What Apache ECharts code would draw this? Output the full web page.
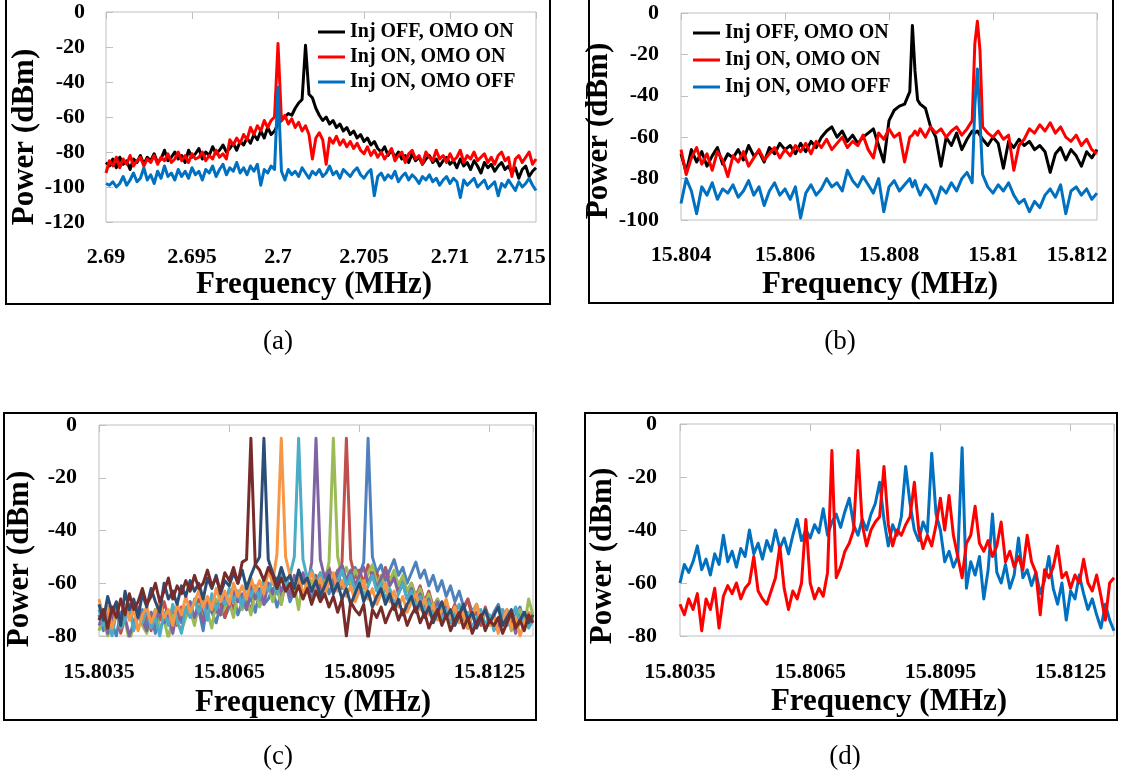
<!DOCTYPE html>
<html><head><meta charset="utf-8">
<script src="https://cdn.jsdelivr.net/npm/echarts@6/dist/echarts.min.js"></script>
<style>html,body{margin:0;padding:0;background:#fff}#chart{width:1126px;height:779px}</style>
</head><body><div id="chart"></div>
<script>
// ---------------- DATA ----------------
const legendNames = ['Inj OFF, OMO ON', 'Inj ON, OMO ON', 'Inj ON, OMO OFF'];
const xTicksA = [2.69, 2.695, 2.7, 2.705, 2.71, 2.715];
const yTicksA = [-120, -100, -80, -60, -40, -20, 0];
const xTicksB = [15.804, 15.806, 15.808, 15.81, 15.812];
const yTicksB = [-100, -80, -60, -40, -20, 0];
const xTicksCD = [15.8035, 15.8065, 15.8095, 15.8125];
const xMaxCD = 15.8135;
const yTicksCD = [-80, -60, -40, -20, 0];

const freqA = [
2.69,2.6902,2.6904,2.6906,2.6908,2.691,2.6912,2.6914,2.6916,2.6918,
2.692,2.6922,2.6924,2.6926,2.6928,2.693,2.6932,2.6934,2.6936,2.6938,
2.694,2.6942,2.6944,2.6946,2.6948,2.695,2.6952,2.6954,2.6956,2.6958,
2.696,2.6962,2.6964,2.6966,2.6968,2.697,2.6972,2.6974,2.6976,2.6978,
2.698,2.6982,2.6984,2.6986,2.6988,2.699,2.6992,2.6994,2.6996,2.6998,
2.7,2.7002,2.7004,2.7006,2.7008,2.701,2.7012,2.7014,2.7016,2.7018,
2.702,2.7022,2.7024,2.7026,2.7028,2.703,2.7032,2.7034,2.7036,2.7038,
2.704,2.7042,2.7044,2.7046,2.7048,2.705,2.7052,2.7054,2.7056,2.7058,
2.706,2.7062,2.7064,2.7066,2.7068,2.707,2.7072,2.7074,2.7076,2.7078,
2.708,2.7082,2.7084,2.7086,2.7088,2.709,2.7092,2.7094,2.7096,2.7098,
2.71,2.7102,2.7104,2.7106,2.7108,2.711,2.7112,2.7114,2.7116,2.7118,
2.712,2.7122,2.7124,2.7126,2.7128,2.713,2.7132,2.7134,2.7136,2.7138,
2.714,2.7142,2.7144,2.7146,2.7148,2.715];
const blackA = [
-86,-88,-84,-89,-83,-87,-85,-90,-84,-86,
-82,-87,-83,-85,-81,-86,-84,-79,-85,-83,
-80,-84,-82,-86,-79,-83,-81,-78,-84,-80,
-82,-77,-81,-79,-76,-80,-78,-75,-79,-74,
-76,-72,-75,-70,-73,-68,-72,-66,-70,-68,
-64,-62,-60,-58,-59,-55,-52,-50,-19,-47,
-49,-55,-59,-62,-60,-64,-62,-66,-64,-68,
-66,-70,-68,-72,-70,-74,-72,-76,-74,-78,
-80,-77,-82,-79,-83,-80,-84,-82,-86,-81,
-85,-83,-87,-84,-82,-86,-84,-88,-85,-83,
-87,-85,-89,-84,-88,-86,-90,-85,-88,-92,
-86,-89,-87,-91,-88,-86,-90,-88,-92,-89,
-95,-90,-88,-94,-91,-89];
const redA = [
-92,-85,-88,-83,-89,-84,-87,-82,-88,-85,
-83,-88,-84,-86,-82,-87,-83,-85,-81,-86,
-84,-80,-85,-82,-86,-81,-84,-83,-80,-85,
-82,-84,-79,-83,-81,-84,-73,-76,-72,-75,
-70,-73,-66,-70,-65,-68,-62,-66,-62,-60,
-18,-62,-59,-64,-61,-66,-63,-68,-65,-70,
-84,-72,-69,-73,-87,-72,-75,-71,-76,-73,
-77,-74,-78,-75,-79,-81,-77,-82,-79,-83,
-80,-84,-81,-78,-85,-82,-80,-86,-81,-79,
-84,-82,-87,-80,-83,-85,-79,-84,-82,-86,
-81,-85,-83,-79,-86,-82,-84,-80,-85,-83,
-81,-86,-83,-87,-82,-80,-85,-83,-94,-84,
-82,-86,-83,-80,-87,-84];
const blueA = [
-98,-99,-97,-100,-98,-94,-99,-96,-92,-97,
-95,-89,-96,-93,-98,-91,-95,-88,-94,-92,
-96,-90,-94,-91,-95,-89,-93,-91,-96,-90,
-92,-88,-94,-90,-87,-93,-89,-91,-86,-92,
-89,-93,-88,-91,-87,-99,-90,-92,-88,-90,
-43,-91,-96,-90,-93,-91,-94,-89,-92,-95,
-91,-93,-90,-94,-92,-88,-93,-91,-95,-90,
-92,-94,-91,-89,-93,-95,-92,-90,-105,-94,
-92,-96,-93,-95,-91,-97,-94,-92,-96,-93,
-95,-98,-94,-96,-93,-97,-95,-99,-96,-94,
-98,-95,-97,-106,-96,-99,-97,-95,-100,-98,
-96,-101,-99,-97,-105,-98,-100,-96,-99,-102,
-97,-100,-98,-95,-99,-102];

const freqB = [
15.804,15.8041,15.8042,15.8043,15.8044,15.8045,15.8046,15.8047,15.8048,15.8049,
15.805,15.8051,15.8052,15.8053,15.8054,15.8055,15.8056,15.8057,15.8058,15.8059,
15.806,15.8061,15.8062,15.8063,15.8064,15.8065,15.8066,15.8067,15.8068,15.8069,
15.807,15.8071,15.8072,15.8073,15.8074,15.8075,15.8076,15.8077,15.8078,15.8079,
15.808,15.8081,15.8082,15.8083,15.8084,15.80845,15.8085,15.80855,15.8086,15.8087,
15.8088,15.8089,15.809,15.8091,15.8092,15.8093,15.8094,15.8095,15.8096,15.80965,
15.8097,15.80975,15.8098,15.8099,15.81,15.8101,15.8102,15.8103,15.8104,15.8105,
15.8106,15.8107,15.8108,15.8109,15.811,15.8111,15.8112,15.8113,15.8114,15.8115,
15.8116,15.8117,15.8118,15.8119,15.812];
const blackB = [
-68,-77,-66,-72,-67,-74,-69,-65,-73,-68,
-70,-66,-71,-64,-69,-67,-72,-65,-68,-63,
-66,-64,-68,-63,-67,-62,-65,-60,-57,-55,
-60,-57,-62,-59,-63,-60,-58,-56,-64,-72,
-52,-47,-45,-44,-38,-6,-28,-42,-44,-46,
-55,-60,-74,-60,-64,-58,-66,-61,-57,-58,
-57,-59,-61,-64,-60,-63,-75,-62,-65,-61,
-64,-62,-66,-64,-67,-77,-68,-65,-71,-66,
-69,-74,-67,-70,-66];
const redB = [
-66,-78,-70,-65,-73,-68,-76,-67,-71,-79,
-69,-72,-67,-74,-70,-66,-71,-68,-65,-70,
-66,-69,-64,-67,-63,-68,-62,-65,-61,-66,
-63,-60,-65,-62,-64,-59,-66,-70,-58,-61,
-56,-60,-58,-72,-60,-59,-57,-59,-56,-60,
-55,-58,-56,-60,-57,-55,-59,-56,-52,-15,
-4,-18,-55,-58,-60,-57,-61,-59,-76,-64,
-61,-56,-58,-54,-57,-53,-58,-55,-60,-62,
-59,-64,-61,-66,-68];
const blueB = [
-92,-80,-86,-97,-84,-88,-82,-90,-85,-87,
-83,-89,-86,-81,-88,-84,-93,-86,-82,-88,
-85,-90,-84,-99,-87,-83,-88,-85,-80,-84,
-82,-86,-76,-81,-84,-79,-83,-87,-80,-96,
-84,-81,-86,-83,-80,-84,-81,-85,-88,-83,
-86,-92,-84,-87,-82,-86,-80,-77,-82,-45,
-27,-52,-78,-84,-87,-83,-86,-82,-88,-92,
-90,-96,-91,-94,-88,-85,-89,-83,-97,-86,
-84,-88,-85,-90,-87];

const freqCD = [
15.8035,15.8036,15.8037,15.8038,15.8039,15.804,15.8041,15.8042,15.8043,15.8044,
15.8045,15.8046,15.8047,15.8048,15.8049,15.805,15.8051,15.8052,15.8053,15.8054,
15.8055,15.8056,15.8057,15.8058,15.8059,15.806,15.8061,15.8062,15.8063,15.8064,
15.8065,15.8066,15.8067,15.8068,15.8069,15.807,15.8071,15.8072,15.8073,15.8074,
15.8075,15.8076,15.8077,15.8078,15.8079,15.808,15.8081,15.8082,15.8083,15.8084,
15.8085,15.8086,15.8087,15.8088,15.8089,15.809,15.8091,15.8092,15.8093,15.8094,
15.8095,15.8096,15.8097,15.8098,15.8099,15.81,15.8101,15.8102,15.8103,15.8104,
15.8105,15.8106,15.8107,15.8108,15.8109,15.811,15.8111,15.8112,15.8113,15.8114,
15.8115,15.8116,15.8117,15.8118,15.8119,15.812,15.8121,15.8122,15.8123,15.8124,
15.8125,15.8126,15.8127,15.8128,15.8129,15.813,15.8131,15.8132,15.8133,15.8134,
15.8135];
const c1 = [
-72,-78,-69,-75,-80,-71,-74,-68,-77,-73,
-70,-76,-72,-79,-68,-74,-71,-77,-69,-75,
-72,-67,-74,-70,-78,-66,-71,-75,-68,-73,
-69,-64,-72,-67,-70,-65,-71,-63,-68,-66,
-62,-69,-64,-60,-67,-63,-58,-65,-61,-66,
-60,-63,-57,-64,-59,-55,-62,-58,-61,-54,
-57,-52,-5,-50,-56,-53,-59,-55,-51,-57,
-54,-60,-56,-52,-58,-55,-61,-57,-63,-59,
-65,-61,-67,-63,-69,-66,-71,-68,-73,-70,
-75,-71,-68,-74,-70,-76,-72,-69,-75,-71,-73];
const c2 = [
-74,-70,-77,-72,-68,-79,-73,-71,-76,-69,
-75,-72,-78,-70,-74,-67,-73,-71,-76,-69,
-71,-68,-74,-66,-72,-69,-65,-71,-67,-73,
-66,-70,-63,-68,-65,-71,-62,-67,-64,-60,
-66,-61,-68,-59,-64,-62,-58,-65,-60,-63,
-57,-62,-58,-54,-61,-56,-52,-5,-51,-58,
-55,-60,-53,-58,-56,-61,-54,-59,-57,-62,
-58,-63,-60,-65,-61,-67,-63,-69,-66,-70,
-67,-72,-68,-74,-70,-66,-73,-71,-76,-69,
-74,-72,-78,-70,-75,-73,-77,-71,-76,-74,-72];
const c3 = [
-78,-73,-80,-75,-71,-77,-74,-82,-76,-72,
-76,-79,-73,-70,-77,-74,-81,-72,-75,-78,
-73,-70,-76,-68,-74,-71,-77,-66,-72,-69,
-67,-73,-64,-70,-66,-72,-63,-69,-65,-60,
-67,-62,-68,-58,-64,-61,-70,-57,-63,-59,
-62,-56,-60,-52,-5,-50,-57,-54,-60,-55,
-58,-62,-56,-53,-60,-57,-63,-59,-55,-61,
-57,-63,-60,-66,-62,-68,-64,-70,-66,-71,
-68,-73,-69,-75,-71,-77,-72,-68,-74,-70,
-76,-72,-69,-75,-71,-78,-73,-70,-76,-66,-72];
const c4 = [
-76,-72,-79,-74,-70,-77,-73,-80,-75,-71,
-74,-78,-71,-76,-69,-75,-72,-79,-70,-74,
-70,-67,-73,-69,-75,-66,-71,-68,-72,-65,
-69,-63,-67,-64,-70,-61,-66,-62,-68,-60,
-64,-58,-63,-59,-65,-57,-61,-56,-62,-52,
-5,-51,-58,-55,-60,-56,-53,-59,-55,-61,
-57,-54,-60,-56,-62,-58,-55,-61,-58,-64,
-60,-66,-62,-68,-64,-70,-66,-72,-67,-73,
-69,-75,-70,-74,-71,-77,-72,-76,-73,-70,
-75,-72,-78,-71,-76,-73,-79,-74,-71,-76,-73];
const c5 = [
-70,-76,-73,-80,-71,-77,-74,-69,-78,-72,
-75,-70,-77,-73,-80,-71,-76,-68,-74,-79,
-69,-73,-66,-71,-67,-74,-64,-70,-65,-68,
-62,-67,-63,-69,-60,-65,-61,-66,-58,-63,
-59,-64,-56,-61,-57,-50,-5,-51,-58,-55,
-60,-56,-62,-58,-63,-59,-55,-61,-57,-63,
-59,-65,-61,-57,-63,-60,-66,-62,-68,-64,
-60,-66,-63,-69,-65,-71,-67,-73,-69,-74,
-70,-75,-72,-68,-74,-71,-77,-73,-70,-76,
-72,-78,-74,-70,-76,-73,-69,-75,-72,-77,-74];
const c6 = [
-66,-73,-69,-77,-71,-75,-68,-74,-70,-78,
-72,-69,-75,-71,-67,-73,-70,-76,-68,-72,
-65,-71,-67,-63,-69,-65,-70,-62,-67,-63,
-68,-60,-65,-61,-66,-58,-63,-59,-64,-55,
-60,-49,-5,-50,-57,-62,-58,-64,-60,-56,
-62,-58,-64,-60,-56,-63,-59,-65,-61,-67,
-63,-59,-66,-62,-68,-64,-60,-67,-63,-69,
-65,-71,-67,-64,-70,-66,-72,-68,-74,-70,
-66,-73,-69,-75,-71,-77,-72,-68,-74,-70,
-76,-72,-79,-74,-70,-77,-73,-80,-75,-71,-74];
const c7 = [
-68,-74,-65,-71,-67,-76,-63,-70,-66,-73,
-64,-69,-62,-67,-71,-60,-66,-63,-68,-61,
-65,-59,-63,-60,-66,-58,-62,-57,-64,-59,
-61,-56,-60,-55,-62,-57,-53,-50,-5,-51,
-56,-60,-54,-59,-57,-62,-55,-60,-58,-63,
-59,-65,-61,-57,-64,-60,-66,-62,-68,-64,
-60,-67,-63,-69,-65,-62,-68,-64,-70,-66,
-72,-68,-65,-71,-67,-73,-69,-75,-71,-67,
-73,-70,-76,-72,-68,-74,-71,-77,-73,-70,
-75,-72,-69,-76,-73,-70,-77,-74,-71,-75,-72];
const c8 = [
-74,-70,-77,-69,-73,-66,-72,-64,-70,-67,
-62,-68,-65,-60,-67,-63,-58,-66,-61,-64,
-59,-63,-57,-62,-60,-55,-61,-58,-63,-56,
-59,-54,-60,-52,-51,-5,-53,-55,-59,-54,
-57,-62,-58,-63,-60,-65,-61,-66,-62,-68,
-63,-67,-64,-69,-65,-71,-66,-80,-67,-70,
-72,-68,-81,-70,-73,-69,-75,-71,-68,-74,
-70,-76,-72,-69,-75,-71,-77,-73,-70,-76,
-72,-78,-74,-71,-77,-73,-79,-75,-72,-78,
-74,-76,-73,-79,-75,-71,-77,-74,-78,-72,-75];
const blueD = [
-60,-53,-56,-52,-46,-55,-51,-57,-49,-53,
-42,-52,-48,-54,-47,-50,-40,-49,-45,-51,
-44,-48,-40,-47,-43,-49,-42,-36,-44,-40,
-43,-38,-41,-32,-42,-37,-34,-39,-33,-28,
-38,-42,-36,-40,-34,-30,-22,-36,-46,-38,
-42,-35,-16,-30,-40,-44,-37,-41,-11,-34,
-40,-52,-48,-54,-50,-9,-62,-52,-57,-50,
-66,-55,-34,-56,-60,-53,-62,-57,-43,-58,
-55,-61,-56,-64,-59,-50,-62,-68,-60,-74,
-63,-66,-57,-64,-70,-66,-72,-77,-68,-74,-78];
const redD = [
-68,-72,-66,-70,-64,-78,-66,-70,-62,-77,
-65,-61,-64,-60,-66,-62,-60,-50,-63,-66,
-68,-63,-58,-46,-62,-70,-63,-66,-60,-36,
-60,-66,-62,-65,-56,-10,-58,-54,-48,-45,
-40,-10,-38,-46,-40,-37,-35,-16,-38,-46,
-40,-42,-38,-35,-22,-40,-47,-42,-46,-38,
-28,-40,-27,-42,-50,-58,-45,-42,-31,-45,
-48,-44,-50,-46,-37,-52,-48,-54,-50,-55,
-42,-52,-56,-72,-55,-58,-54,-46,-58,-56,
-62,-57,-60,-51,-60,-63,-57,-65,-74,-60,-58];

// ---------------- STYLE / LAYOUT ----------------
const FONT = 'Liberation Serif';
const GREY = '#bfbfbf';
const zip = (xs, ys) => xs.map((x, i) => [x, ys[i]]);

const panels = [
  {grid:{left:106, top:12, width:430, height:210}, xt:xTicksA, xmax:xTicksA[xTicksA.length-1], yt:yTicksA, lastPad:30, showMax:true,
   xNameGap:47, xNamePad:14, yNameGap:64, yNameShift:40, xLM:24, yLM:21},
  {grid:{left:681, top:13, width:416, height:207}, xt:xTicksB, xmax:xTicksB[xTicksB.length-1], yt:yTicksB, lastPad:40, showMax:true,
   xNameGap:49, xNamePad:18, yNameGap:64, yNameShift:29, xLM:24, yLM:22},
  {grid:{left:99, top:425, width:434, height:211}, xt:xTicksCD, xmax:xMaxCD, yt:yTicksCD, lastPad:0, showMax:false,
   xNameGap:51, xNamePad:6, yNameGap:64, yNameShift:57, xLM:25, yLM:22},
  {grid:{left:680, top:424, width:434, height:212}, xt:xTicksCD, xmax:xMaxCD, yt:yTicksCD, lastPad:0, showMax:false,
   xNameGap:50, xNamePad:16, yNameGap:62, yNameShift:52, xLM:25, yLM:23}
];

const tickFont = {fontFamily:FONT, fontWeight:'bold', fontSize:22, color:'#000'};
const nameFont = {fontFamily:FONT, fontWeight:'bold', fontSize:31, color:'#000'};

const grids = [], xAxes = [], yAxes = [];
panels.forEach((P, k) => {
  grids.push(Object.assign({show:true, borderColor:GREY, borderWidth:1, backgroundColor:'transparent'}, P.grid));
  const xmin = P.xt[0], xint = +(P.xt[1] - P.xt[0]).toFixed(6);
  xAxes.push({
    gridIndex:k, type:'value', position:'bottom', min:xmin, max:P.xmax, interval:xint,
    axisLine:{show:false}, axisTick:{show:false}, splitLine:{show:false},
    axisLabel:Object.assign({margin:P.xLM, showMaxLabel:P.showMax, showMinLabel:true,
      formatter:(v) => { const s = String(parseFloat(v.toFixed(5)));
        return (P.lastPad && Math.abs(v - P.xmax) < 1e-9) ? '{m|' + s + '}' : s; },
      rich:{m:Object.assign({padding:[0, P.lastPad, 0, 0]}, tickFont)}}, tickFont),
    name:'Frequency (MHz)', nameLocation:'middle', nameGap:P.xNameGap,
    nameTextStyle:Object.assign({padding:[0, P.xNamePad, 0, 0]}, nameFont)
  });
  xAxes.push({
    gridIndex:k, type:'value', position:'top', min:xmin, max:P.xmax, interval:xint,
    axisLine:{show:false}, axisLabel:{show:false}, splitLine:{show:false},
    axisTick:{show:true, inside:true, length:7, lineStyle:{color:GREY, width:1}}
  });
  yAxes.push({
    gridIndex:k, type:'value', position:'left', min:P.yt[0], max:P.yt[P.yt.length-1], interval:P.yt[1]-P.yt[0],
    axisLine:{show:false}, splitLine:{show:false},
    axisTick:{show:true, inside:true, length:7, lineStyle:{color:GREY, width:1}},
    axisLabel:Object.assign({margin:P.yLM}, tickFont),
    name:'Power (dBm)', nameLocation:'middle', nameGap:P.yNameGap,
    nameTextStyle:Object.assign({padding:[0, P.yNameShift, 0, 0]}, nameFont)
  });
});

function line(name, k, xs, ys, color, width) {
  return {name, type:'line', xAxisIndex:2*k, yAxisIndex:k, data:zip(xs, ys),
    showSymbol:false, symbol:'none', clip:true, animation:false,
    lineStyle:{color, width:width || 3, join:'round'}, itemStyle:{color}};
}

const cColors = ['#4F81BD','#C0504D','#9BBB59','#8064A2','#4BACC6','#F79646','#2C4D75','#772C2A'];
const cTraces = [c1, c2, c3, c4, c5, c6, c7, c8];

const series = [
  line(legendNames[0], 0, freqA, blackA, '#000000'),
  line(legendNames[1], 0, freqA, redA, '#FF0000'),
  line(legendNames[2], 0, freqA, blueA, '#0070C0'),
  line(legendNames[0], 1, freqB, blackB, '#000000'),
  line(legendNames[1], 1, freqB, redB, '#FF0000'),
  line(legendNames[2], 1, freqB, blueB, '#0070C0'),
  ...cTraces.map((t, i) => line('Trace ' + (i + 1), 2, freqCD, t, cColors[i])),
  line('Blue', 3, freqCD, blueD, '#0070C0'),
  line('Red', 3, freqCD, redD, '#FF0000')
];

const legendText = {fontFamily:FONT, fontWeight:'bold', fontSize:20, color:'#000'};
const legends = [
  {orient:'vertical', left:318, top:22, itemWidth:27, itemHeight:3, itemGap:5, icon:'rect', padding:0,
   selectedMode:false, data:legendNames, textStyle:legendText},
  {orient:'vertical', left:693, top:23, itemWidth:27, itemHeight:3, itemGap:7, icon:'rect', padding:0,
   selectedMode:false, data:legendNames, textStyle:legendText}
];

const box = (x, y, w, h) => ({type:'rect', silent:true, shape:{x, y, width:w, height:h},
  style:{fill:'transparent', stroke:'#000', lineWidth:2}});
const caption = (t, x, y) => ({type:'text', silent:true, x, y,
  style:{text:t, fontFamily:FONT, fontSize:27, fill:'#000', align:'center', verticalAlign:'middle'}});

const option = {
  animation:false, backgroundColor:'#ffffff',
  grid:grids, xAxis:xAxes, yAxis:yAxes, legend:legends, series,
  graphic:[
    box(6, -10, 544, 314), box(589, -10, 524, 313), box(4, 413, 532, 307), box(585, 413, 532, 307),
    caption('(a)', 278, 342), caption('(b)', 840, 342), caption('(c)', 278, 757), caption('(d)', 845, 757)
  ]
};
const chart = echarts.init(document.getElementById('chart'), null, {renderer:'canvas'});
chart.setOption(option);
</script></body></html>
